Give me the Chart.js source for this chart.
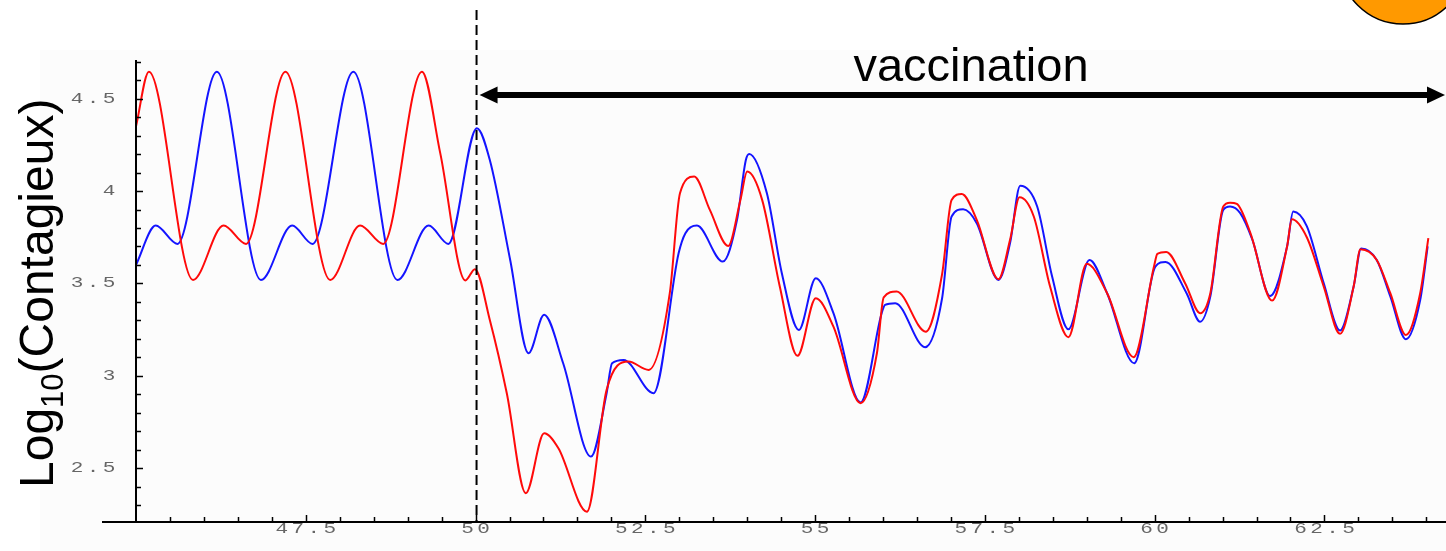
<!DOCTYPE html>
<html>
<head>
<meta charset="utf-8">
<script src="https://cdn.jsdelivr.net/npm/chart.js@4"></script>
<style>
  html, body { margin: 0; padding: 0; background: #fff; }
  canvas { display: block; }
</style>
</head>
<body>
<canvas id="chart" width="1446" height="551"></canvas>
<script>
// values (time in years, log10 of infectious)
const redX = [45.00, 45.19, 45.84, 46.29, 46.62, 47.20, 47.86, 48.30, 48.64, 49.21, 49.48, 49.85, 49.99,
    50.21, 50.46, 50.74, 51.01, 51.22, 51.64, 51.93, 52.25, 52.55, 52.86, 53.01, 53.22, 53.45, 53.72,
    53.90, 54.00, 54.22, 54.48, 54.74, 55.01, 55.27, 55.67, 55.91, 56.01, 56.20, 56.63, 56.87, 57.01,
    57.16, 57.38, 57.70, 57.87, 58.01, 58.22, 58.46, 58.73, 59.00, 59.30, 59.69, 59.99, 60.04, 60.17,
    60.45, 60.67, 60.82, 61.01, 61.11, 61.21, 61.41, 61.73, 61.95, 62.02, 62.24, 62.49, 62.73, 62.93,
    63.03, 63.27, 63.47, 63.70, 63.91, 64.03];
const redY = [4.35, 4.646, 3.519, 3.813, 3.714, 4.646, 3.519, 3.813, 3.714, 4.646, 4.205, 3.516, 3.577,
    3.302, 2.906, 2.365, 2.689, 2.608, 2.265, 2.924, 3.077, 3.032, 3.447, 3.988, 4.078, 3.898, 3.703,
    3.952, 4.105, 3.952, 3.483, 3.108, 3.420, 3.266, 2.852, 3.122, 3.425, 3.456, 3.239, 3.55, 3.952,
    3.984, 3.844, 3.523, 3.735, 3.966, 3.862, 3.483, 3.209, 3.606, 3.447, 3.101, 3.591, 3.66, 3.670,
    3.50, 3.339, 3.447, 3.916, 3.937, 3.93, 3.772, 3.407, 3.70, 3.847, 3.75, 3.483, 3.227, 3.483,
    3.685, 3.627, 3.447, 3.221, 3.447, 3.745];

const blueX = [45.00, 45.29, 45.61, 46.19, 46.84, 47.30, 47.60, 48.20, 48.85, 49.31, 49.60, 50.02,
    50.21, 50.51, 50.78, 51.01, 51.29, 51.70, 51.93, 52.01, 52.18, 52.62, 52.99, 53.09, 53.26, 53.64,
    53.85, 53.98, 54.03, 54.29, 54.51, 54.76, 55.01, 55.27, 55.67, 55.98, 56.03, 56.18, 56.62, 56.87,
    57.01, 57.18, 57.38, 57.70, 57.87, 58.02, 58.27, 58.49, 58.73, 59.04, 59.30, 59.70, 60.01, 60.16,
    60.47, 60.67, 60.82, 61.01, 61.11, 61.26, 61.44, 61.70, 61.95, 62.04, 62.24, 62.49, 62.73, 62.93,
    63.04, 63.27, 63.47, 63.70, 63.91, 64.02];
const blueY = [3.60, 3.813, 3.714, 4.646, 3.519, 3.813, 3.714, 4.646, 3.519, 3.813, 3.714, 4.340,
    4.168, 3.627, 3.122, 3.330, 3.068, 2.563, 2.906, 3.068, 3.086, 2.906, 3.663, 3.772, 3.813, 3.618,
    3.844, 4.168, 4.201, 3.988, 3.555, 3.248, 3.528, 3.339, 2.856, 3.339, 3.384, 3.393, 3.155, 3.42,
    3.862, 3.901, 3.826, 3.519, 3.717, 4.028, 3.916, 3.537, 3.252, 3.627, 3.447, 3.068, 3.591, 3.616,
    3.447, 3.293, 3.43, 3.898, 3.916, 3.88, 3.735, 3.432, 3.70, 3.889, 3.81, 3.50, 3.245, 3.483,
    3.689, 3.627, 3.43, 3.198, 3.41, 3.70];

const xTickLabels = [47.5, 50, 52.5, 55, 57.5, 60, 62.5];
const yTickLabels = [2.5, 3, 3.5, 4, 4.5];
const vaccinationStart = 50;

function points(xs, ys) {
    return xs.map((x, i) => ({ x: x, y: ys[i] }));
}

// stretched, widely spaced digits like the original plot
function spacedText(ctx, text, lastCx, cy, pitch, centered) {
    const n = text.length;
    let start = centered ? lastCx - (n - 1) * pitch / 2 : lastCx - (n - 1) * pitch;
    for (let i = 0; i < n; i++) {
        ctx.save();
        ctx.translate(start + i * pitch, cy);
        ctx.scale(1.4, 1);
        ctx.fillText(text[i], 0, 0);
        ctx.restore();
    }
}

const decor = {
    id: "decor",
    beforeDraw(chart) {
        const ctx = chart.ctx;
        ctx.save();
        ctx.fillStyle = "#ffffff";
        ctx.fillRect(0, 0, chart.width, chart.height);
        ctx.fillStyle = "#fcfcfc";
        ctx.fillRect(40, 50, chart.width - 40, chart.height - 50);
        ctx.restore();
    },
    afterDatasetsDraw(chart) {
        const ctx = chart.ctx;
        const xs = chart.scales.x, ys = chart.scales.y;
        const area = chart.chartArea;
        ctx.save();

        // axes
        ctx.strokeStyle = "#000";
        ctx.lineWidth = 2;
        ctx.beginPath();
        ctx.moveTo(area.left, area.top);
        ctx.lineTo(area.left, area.bottom);
        ctx.moveTo(102, area.bottom);
        ctx.lineTo(area.right, area.bottom);
        ctx.stroke();

        // inward ticks
        ctx.lineWidth = 1.5;
        ctx.beginPath();
        for (let v = 45.5; v <= 64.01; v += 0.5) {
            const px = Math.round(xs.getPixelForValue(v)) + 0.5;
            const major = Math.abs(v / 2.5 - Math.round(v / 2.5)) < 1e-6;
            ctx.moveTo(px, area.bottom);
            ctx.lineTo(px, area.bottom - (major ? 7 : 5));
        }
        for (let v = 2.3; v <= 4.71; v += 0.1) {
            const py = Math.round(ys.getPixelForValue(v)) + 0.5;
            const major = Math.abs(v * 2 - Math.round(v * 2)) < 1e-6;
            ctx.moveTo(area.left, py);
            ctx.lineTo(area.left + (major ? 7 : 5), py);
        }
        ctx.stroke();

        // tick labels
        ctx.fillStyle = "#666666";
        ctx.font = '15px "Liberation Mono"';
        ctx.textAlign = "center";
        ctx.textBaseline = "middle";
        xTickLabels.forEach(v => {
            spacedText(ctx, String(v), xs.getPixelForValue(v), 529, 16, true);
        });
        yTickLabels.forEach(v => {
            spacedText(ctx, String(v), 109, ys.getPixelForValue(v), 16, false);
        });

        // y axis title
        ctx.fillStyle = "#000";
        ctx.textAlign = "left";
        ctx.textBaseline = "alphabetic";
        ctx.translate(53, 488);
        ctx.rotate(-Math.PI / 2);
        ctx.font = '48px "Liberation Sans"';
        ctx.fillText("Log", 0, 0);
        let w = ctx.measureText("Log").width;
        ctx.font = '31px "Liberation Sans"';
        ctx.fillText("10", w, 10);
        w += ctx.measureText("10").width;
        ctx.font = '48px "Liberation Sans"';
        ctx.fillText("(Contagieux)", w, 0);
        ctx.setTransform(1, 0, 0, 1, 0, 0);

        // vaccination start line
        const vx = xs.getPixelForValue(vaccinationStart) + 1;
        ctx.strokeStyle = "#000";
        ctx.lineWidth = 2;
        ctx.setLineDash([10, 5]);
        ctx.beginPath();
        ctx.moveTo(vx, 10);
        ctx.lineTo(vx, area.bottom);
        ctx.stroke();
        ctx.setLineDash([]);

        // double arrow
        const ay = 95;
        const left = vx + 3, right = area.right - 1;
        ctx.lineWidth = 6;
        ctx.beginPath();
        ctx.moveTo(left + 15, ay);
        ctx.lineTo(right - 15, ay);
        ctx.stroke();
        ctx.fillStyle = "#000";
        ctx.beginPath();
        ctx.moveTo(left, ay);
        ctx.lineTo(left + 18, ay - 8.5);
        ctx.lineTo(left + 18, ay + 8.5);
        ctx.closePath();
        ctx.fill();
        ctx.beginPath();
        ctx.moveTo(right, ay);
        ctx.lineTo(right - 18, ay - 8.5);
        ctx.lineTo(right - 18, ay + 8.5);
        ctx.closePath();
        ctx.fill();

        ctx.font = '47px "Liberation Sans"';
        ctx.textAlign = "center";
        ctx.fillText("vaccination", 971, 81);

        // orange disc in the corner
        ctx.beginPath();
        ctx.arc(1403, -40, 64, 0, Math.PI * 2);
        ctx.fillStyle = "#ff9900";
        ctx.fill();
        ctx.lineWidth = 1.5;
        ctx.strokeStyle = "#000";
        ctx.stroke();

        ctx.restore();
    }
};

new Chart(document.getElementById("chart"), {
    type: "line",
    data: {
        datasets: [
            {
                label: "red",
                data: points(redX, redY),
                borderColor: "rgb(255,10,10)",
                borderWidth: 2,
                pointRadius: 0,
                cubicInterpolationMode: "monotone",
                fill: false
            },
            {
                label: "blue",
                data: points(blueX, blueY),
                borderColor: "rgb(20,20,255)",
                borderWidth: 2,
                pointRadius: 0,
                cubicInterpolationMode: "monotone",
                fill: false
            }
        ]
    },
    options: {
        responsive: false,
        animation: false,
        devicePixelRatio: 1,
        layout: { padding: { left: 136, top: 60, right: 0, bottom: 29 } },
        plugins: { legend: { display: false }, tooltip: { enabled: false } },
        scales: {
            x: { type: "linear", min: 45, max: 64.29, display: false },
            y: { type: "linear", min: 2.209, max: 4.709, display: false }
        }
    },
    plugins: [decor]
});
</script>
</body>
</html>
